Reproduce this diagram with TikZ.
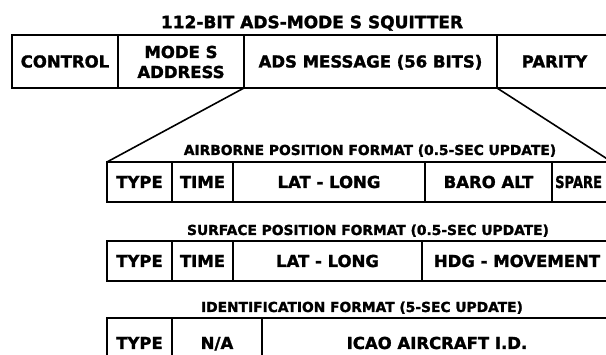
\documentclass[tikz,border=0pt]{standalone}
\usepackage{fontspec}
\usepackage{graphicx}
\setmainfont{DejaVu Sans}[BoldFeatures={FakeBold=1.6}]
\newcommand\cellnode[6]{\node[cellbox, minimum width={#3-#2}, minimum height={#5-#4}] (#1) at ({(#2+#3)/2},{(#4+#5)/2}) {#6};}
\begin{document}
\begin{tikzpicture}[x=1pt,y=-1pt,
  cellbox/.style={draw, line width=1.6pt, rectangle, inner sep=0pt, outer sep=0pt,
    font=\bfseries\fontsize{16.5}{18}\selectfont, text height=12pt, text depth=0pt},
  celltext/.style={inner sep=0pt, font=\bfseries\fontsize{16.5}{18}\selectfont, text height=12pt, text depth=0pt},
  ttl/.style={inner sep=0pt, font=\bfseries\fontsize{17}{19}\selectfont, text height=12.4pt, text depth=0pt},
  sub/.style={inner sep=0pt, font=\bfseries\fontsize{13.8}{15}\selectfont, text height=10pt, text depth=0pt},
  conn/.style={line width=1.6pt}]
\useasboundingbox (0,0) rectangle (606,355);
\clip (0,0) rectangle (606,355);
% main title
\node[ttl] (title) at (312,22) {112-BIT ADS-MODE S SQUITTER};
% top row
\cellnode{ctrl}{12}{118}{35}{88}{CONTROL}
\cellnode{addr}{118}{244}{35}{88}{}
\node[celltext] (addr1) at (181,52) {MODE S};
\node[celltext] (addr2) at (181,72) {ADDRESS};
\cellnode{msg}{244}{497}{35}{88}{ADS MESSAGE (56 BITS)}
\cellnode{par}{497}{612}{35}{88}{PARITY}
% airborne
\node[sub] (airt) at (370,150) {AIRBORNE POSITION FORMAT (0.5-SEC UPDATE)};
\cellnode{type1}{107}{172}{162}{202}{TYPE}
\cellnode{time1}{172}{233}{162}{202}{TIME}
\cellnode{ll1}{233}{425}{162}{202}{LAT - LONG}
\cellnode{baro}{425}{552}{162}{202}{BARO ALT}
\cellnode{spare}{552}{612}{162}{202}{}
\node[celltext, anchor=west] (sparetext) at (555,182) {\scalebox{0.79}[1]{SPARE}};
% surface
\node[sub] (surt) at (368,230) {SURFACE POSITION FORMAT (0.5-SEC UPDATE)};
\cellnode{type2}{107}{172}{241}{281}{TYPE}
\cellnode{time2}{172}{233}{241}{281}{TIME}
\cellnode{ll2}{233}{422}{241}{281}{LAT - LONG}
\cellnode{hdg}{422}{612}{241}{281}{HDG - MOVEMENT}
% identification
\node[sub] (idt) at (362,307) {IDENTIFICATION FORMAT (5-SEC UPDATE)};
\cellnode{type3}{107}{172}{318}{368}{TYPE}
\cellnode{na}{172}{262}{318}{368}{N/A}
\cellnode{icao}{262}{612}{318}{368}{ICAO AIRCRAFT I.D.}
% expansion lines
\draw[conn] (addr.south east) -- (type1.north west);
\draw[conn] (msg.south east) -- (spare.north east);
\end{tikzpicture}
\end{document}
